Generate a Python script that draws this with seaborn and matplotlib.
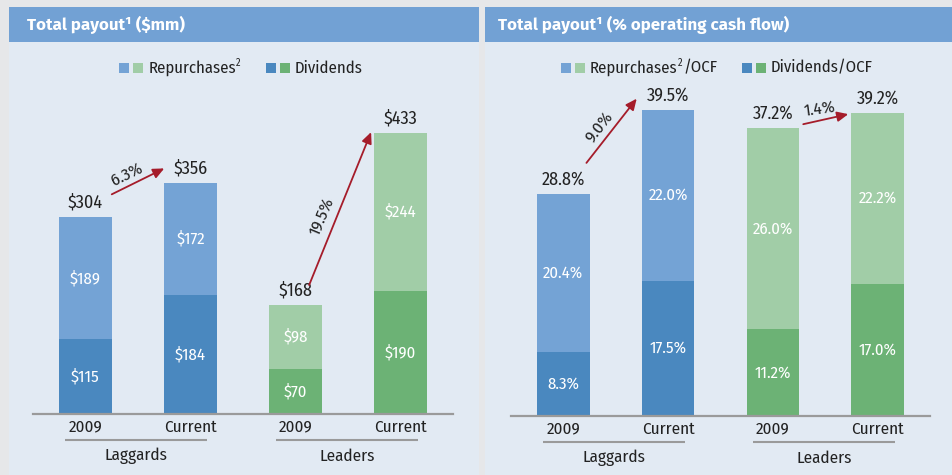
import matplotlib
matplotlib.use("Agg")
import matplotlib.pyplot as plt
from matplotlib.patches import Rectangle
from matplotlib import font_manager
import seaborn as sns
import pandas as pd

# ---------------- data ----------------
bar_keys = ["Lag 2009", "Lag Current", "Lead 2009", "Lead Current"]
year_labels = ["2009", "Current", "2009", "Current"]
group_labels = ["Laggards", "Leaders"]

usd_repurchases = [189, 172, 98, 244]
usd_dividends = [115, 184, 70, 190]
usd_totals = [304, 356, 168, 433]
usd_growth = ["6.3%", "19.5%"]

pct_repurchases = [20.4, 22.0, 26.0, 22.2]
pct_dividends = [8.3, 17.5, 11.2, 17.0]
pct_totals = [28.8, 39.5, 37.2, 39.2]
pct_growth = ["9.0%", "1.4%"]

titles = ["Total payout\u00b9 ($mm)", "Total payout\u00b9 (% operating cash flow)"]
legend_left = [("Repurchases", "2", ""), ("Dividends", "", "")]
legend_right = [("Repurchases", "2", "/OCF"), ("Dividends/OCF", "", "")]

# ---------------- style ----------------
C_LBLUE = "#74a3d5"
C_DBLUE = "#4a88bf"
C_LGREEN = "#a1cda7"
C_DGREEN = "#6cb275"
C_TITLE = "#72a1d4"
C_PANEL = "#e2eaf3"
C_OUTER = "#e6e7e9"
C_ARROW = "#a51c2a"
C_TEXT = "#222222"
C_LINE = "#9a9a9a"

sns.set_theme(style="white")
avail = {f.name for f in font_manager.fontManager.ttflist}
NARROW = next((n for n in ["Fira Sans Condensed", "PT Sans Narrow", "Roboto Condensed",
                           "Archivo Narrow", "Asap Condensed", "Barlow Semi Condensed"]
               if n in avail), "DejaVu Sans")
TITLEF = next((n for n in ["Fira Sans", "Asap", "Lato"] if n in avail), NARROW)
plt.rcParams["font.family"] = [NARROW, "DejaVu Sans"]

W, H = 953, 475
fig = plt.figure(figsize=(W / 100, H / 100), dpi=100)
fig.patch.set_facecolor(C_OUTER)
renderer = fig.canvas.get_renderer()


def fx(px):
    return px / W


def fy(py):
    return 1 - py / H


def width_px(t):
    return t.get_window_extent(renderer).width


# panels and title bars
for (x0, x1), title, tx in zip([(9, 479), (485, 953)], titles, [27, 498]):
    fig.patches.append(Rectangle((fx(x0), 0), fx(x1 - x0), fy(7), transform=fig.transFigure,
                                 facecolor=C_PANEL, edgecolor="none", zorder=-2))
    fig.patches.append(Rectangle((fx(x0), fy(42)), fx(x1 - x0), 35 / H, transform=fig.transFigure,
                                 facecolor=C_TITLE, edgecolor="none", zorder=-1))
    fig.text(fx(tx), fy(25), title, color="white", fontsize=12.2,
             fontweight="bold", va="center", ha="left", family=[TITLEF, "DejaVu Sans"])


def legend(center_x, colors, items):
    # build pieces, measure, then lay them out centred on center_x
    pieces = []  # (kind, obj, width, gap_after)
    for (ca, cb), (main, sup, tail) in zip(colors, items):
        pieces.append(("sq", ca, 10, 4))
        pieces.append(("sq", cb, 10, 5))
        t = fig.text(0, fy(68), main, fontsize=12, color=C_TEXT, va="center", ha="left")
        pieces.append(("tx", t, width_px(t), 0.5))
        if sup:
            s = fig.text(0, fy(63), sup, fontsize=7.5, color=C_TEXT, va="center", ha="left")
            pieces.append(("tx", s, width_px(s), 0.5))
        if tail:
            r = fig.text(0, fy(68), tail, fontsize=12, color=C_TEXT, va="center", ha="left")
            pieces.append(("tx", r, width_px(r), 0))
        kind, obj, w, _ = pieces[-1]
        pieces[-1] = (kind, obj, w, 25)
    total = sum(w + g for _, _, w, g in pieces) - pieces[-1][3]
    x = center_x - total / 2
    for kind, obj, w, g in pieces:
        if kind == "sq":
            fig.patches.append(Rectangle((fx(x), fy(73)), fx(10), 10 / H,
                                         transform=fig.transFigure, facecolor=obj,
                                         edgecolor="none"))
        else:
            obj.set_x(fx(x))
        x += w + g


legend(241, [(C_LBLUE, C_LGREEN), (C_DBLUE, C_DGREEN)], legend_left)
legend(717, [(C_LBLUE, C_LGREEN), (C_DBLUE, C_DGREEN)], legend_right)

top_colors = [C_LBLUE, C_LBLUE, C_LGREEN, C_LGREEN]
bot_colors = [C_DBLUE, C_DBLUE, C_DGREEN, C_DGREEN]


def panel(ax, reps, divs, totals, fmt, ymax, under_y, group_y):
    df = pd.DataFrame({"key": bar_keys, "rep": reps, "div": divs, "tot": totals})
    df["stack"] = df["rep"] + df["div"]
    sns.barplot(data=df, x="key", y="stack", hue="key", palette=top_colors, order=bar_keys,
                hue_order=bar_keys, legend=False, width=0.5, saturation=1, linewidth=0, ax=ax)
    sns.barplot(data=df, x="key", y="div", hue="key", palette=bot_colors, order=bar_keys,
                hue_order=bar_keys, legend=False, width=0.5, saturation=1, linewidth=0, ax=ax)
    ax.set_xlim(-0.5, 3.5)
    ax.set_ylim(0, ymax)
    ax.set_facecolor("none")
    for s in ["top", "right", "left"]:
        ax.spines[s].set_visible(False)
    ax.spines["bottom"].set_color(C_LINE)
    ax.spines["bottom"].set_linewidth(1.6)
    ax.set_yticks([])
    ax.set_xlabel("")
    ax.set_ylabel("")
    ax.set_xticks(range(4))
    ax.set_xticklabels(year_labels, fontsize=12.3, color=C_TEXT)
    ax.tick_params(axis="x", length=0, pad=3.5)
    for i in range(4):
        ax.text(i, divs[i] + reps[i] / 2, fmt(reps[i]), ha="center", va="center",
                color="white", fontsize=12)
        ax.text(i, divs[i] / 2, fmt(divs[i]), ha="center", va="center",
                color="white", fontsize=12)
        ax.annotate(fmt(totals[i]), (i, df["stack"][i]), xytext=(0, 10.5),
                    textcoords="offset points", ha="center", va="center",
                    fontsize=13, color=C_TEXT)
    for g, (a, b) in enumerate([(-0.195, 1.157), (1.81, 3.17)]):
        ax.plot([a, b], [under_y, under_y], color=C_LINE, lw=1.5, clip_on=False,
                solid_capstyle="butt")
        ax.text((a + b) / 2, group_y, group_labels[g], ha="center", va="center",
                fontsize=12.3, color=C_TEXT, clip_on=False)


def arrow(ax, tail, head, label, lab_xy, rot):
    ax.annotate("", xy=head, xytext=tail,
                arrowprops=dict(arrowstyle="-|>,head_length=0.55,head_width=0.25",
                                color=C_ARROW, lw=1.3, shrinkA=0, shrinkB=0))
    ax.text(lab_xy[0], lab_xy[1], label, rotation=rot, rotation_mode="anchor",
            ha="center", va="center", fontsize=12.5, color=C_TEXT)


# left panel: $mm
axL = fig.add_axes([fx(33), 1 - 414 / H, fx(420), 324 / H])
panel(axL, usd_repurchases, usd_dividends, usd_totals,
      lambda v: f"${v}", 324 / 0.648, -40, -65)
arrow(axL, (0.25, usd_totals[0] + 35), (0.75, usd_totals[1] + 23), usd_growth[0],
      (0.395, 370), 26)
arrow(axL, (2.13, usd_totals[2] + 31), (2.72, usd_totals[3] + 2), usd_growth[1],
      (2.26, 304), 67)

# right panel: % of OCF
axR = fig.add_axes([fx(511), 1 - 416 / H, fx(419), 326 / H])
panel(axR, pct_repurchases, pct_dividends, pct_totals,
      lambda v: f"{v:.1f}%", 326 / 7.74, -3.36, -5.43)
arrow(axR, (0.22, pct_totals[0] + 3.9), (0.70, pct_totals[1] + 1.5), pct_growth[0],
      (0.35, 37.3), 52)
arrow(axR, (2.29, pct_totals[2] + 0.5), (2.72, pct_totals[3] - 0.2), pct_growth[1],
      (2.45, 39.7), 8)

fig.savefig("out.png", dpi=100, facecolor=fig.get_facecolor())
